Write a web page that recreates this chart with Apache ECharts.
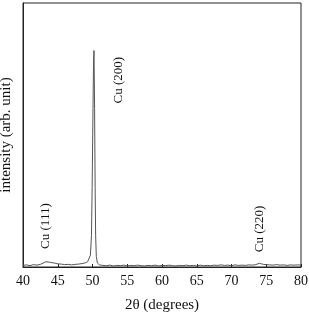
<!DOCTYPE html>
<html><head><meta charset="utf-8">
<script src="https://cdn.jsdelivr.net/npm/echarts@6/dist/echarts.min.js"></script>
<style>html,body{margin:0;padding:0;background:#fff}#c{width:309px;height:314px}</style>
</head><body><div id="c"></div>
<script>
const twoTheta = [40,40.5,41,41.5,42,42.5,43,43.3,43.6,44,44.5,45,45.5,46,46.5,47,47.5,48,48.5,49,49.3,49.5,49.7,49.85,49.95,50.05,50.15,50.22,50.3,50.38,50.45,50.55,50.7,51,51.5,52,52.5,53,53.5,54,54.5,55,55.5,56,56.5,57,57.5,58,58.5,59,59.5,60,60.5,61,61.5,62,62.5,63,63.5,64,64.5,65,65.5,66,66.5,67,67.5,68,68.5,69,69.5,70,70.5,71,71.5,72,72.5,73,73.5,74,74.3,74.6,75,75.5,76,76.5,77,77.5,78,78.5,79,79.5,80];
const intensity = [0.6,0.8,0.5,0.9,0.7,1.0,1.6,2.0,1.9,1.7,1.5,1.2,1.1,0.9,1.0,0.8,1.0,1.1,1.3,1.6,2.0,2.6,4.5,12,30,55,78,82,60,30,12,4,1.5,0.8,0.6,0.5,0.7,0.4,0.6,0.5,0.7,0.4,0.6,0.5,0.7,0.5,0.4,0.6,0.5,0.7,0.4,0.6,0.5,0.7,0.5,0.4,0.6,0.5,0.7,0.5,0.6,0.4,0.7,0.5,0.6,0.5,0.7,0.6,0.8,0.6,0.7,0.5,0.8,0.6,0.7,0.6,0.8,0.7,0.9,1.4,1.2,1.0,0.9,0.8,0.7,0.9,0.7,0.8,0.6,0.8,0.7,0.8,0.7];
const xTicks = [40,45,50,55,60,65,70,75,80];
const peakLabels = ['Cu (111)','Cu (200)','Cu (220)'];
const peakLabelX = [43.3,53.8,74.0];
const peakLabelY = [15.5,70.8,14.4];

const font = 'Liberation Serif';
const chart = echarts.init(document.getElementById('c'));
chart.setOption({
  animation:false,
  grid:{left:23,right:8,top:3,bottom:47,outerBoundsMode:'none',containLabel:false,show:true,borderColor:'#222',borderWidth:1},
  xAxis:{type:'value',min:40,max:80,interval:5,
    name:'2θ (degrees)',nameLocation:'middle',nameGap:31,
    nameTextStyle:{fontFamily:font,fontSize:15,color:'#111'},
    axisLine:{lineStyle:{color:'#222'}},
    axisTick:{inside:true,length:3,lineStyle:{color:'#222'}},
    axisLabel:{fontFamily:font,fontSize:14,color:'#111',margin:7,
      formatter:v=>xTicks.includes(v)?String(v):''},
    splitLine:{show:false}},
  yAxis:{type:'value',min:0,max:100,
    name:'intensity (arb. unit)',nameLocation:'middle',nameGap:9,
    nameTextStyle:{fontFamily:font,fontSize:15,color:'#111'},
    axisLine:{show:true,lineStyle:{color:'#222'}},
    axisTick:{show:false},axisLabel:{show:false},splitLine:{show:false}},
  series:[{type:'line',showSymbol:false,
    data:twoTheta.map((x,i)=>[x,intensity[i]]),
    lineStyle:{width:1,color:'#555'},
    markPoint:{symbol:'circle',symbolSize:0,
      data:peakLabels.map((t,i)=>({coord:[peakLabelX[i],peakLabelY[i]],value:t,
        label:{show:true,formatter:t,position:'inside',rotate:90,fontFamily:font,fontSize:13,color:'#111'}}))}
  }]
});
</script></body></html>
